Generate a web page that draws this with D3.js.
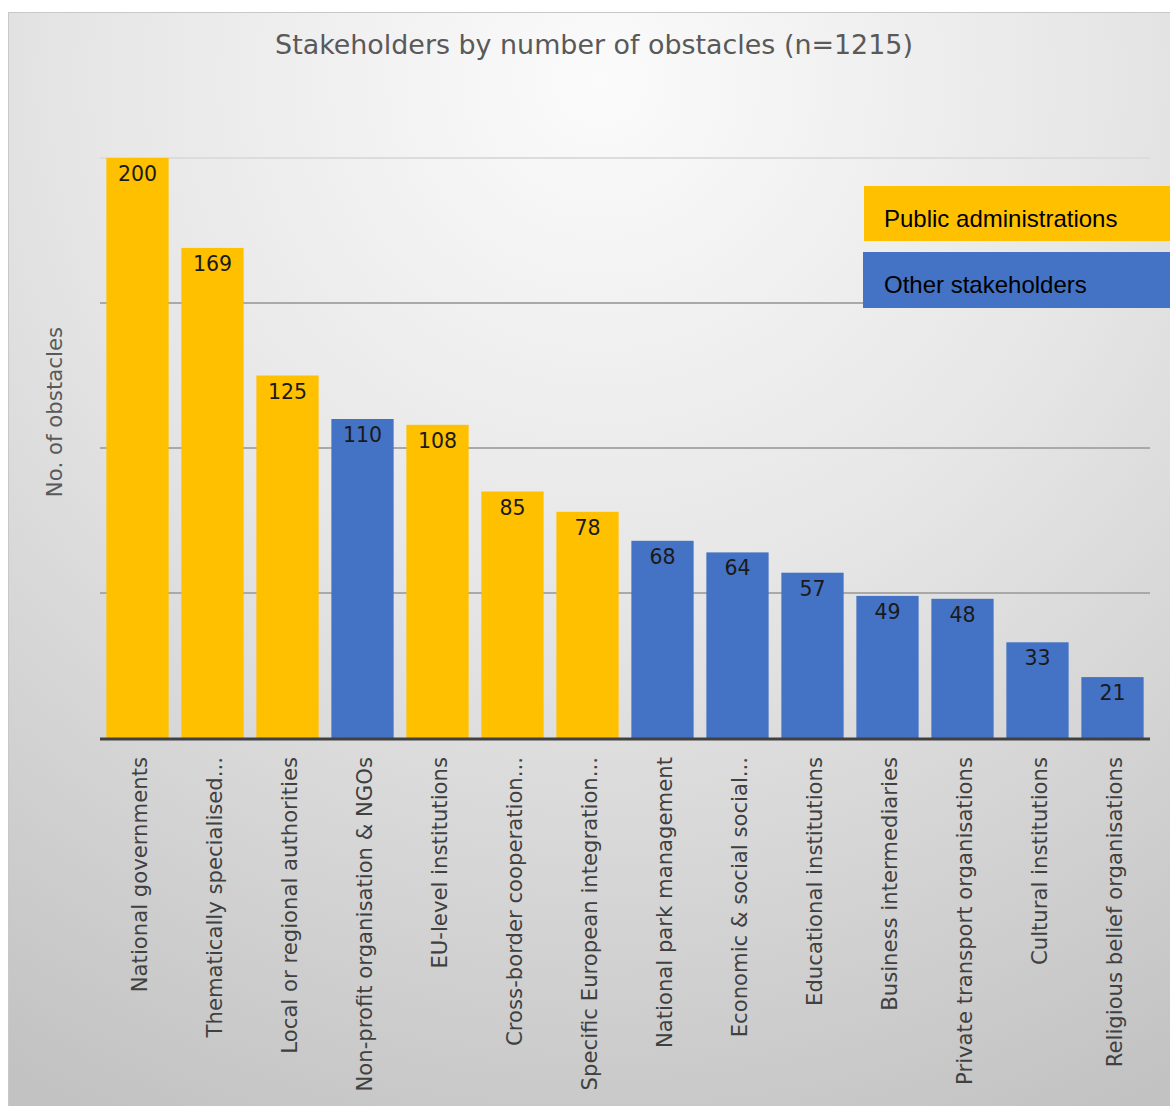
<!DOCTYPE html>
<html><head><meta charset="utf-8">
<script src="https://cdn.jsdelivr.net/npm/d3@7/dist/d3.min.js"></script>
<style>html,body{margin:0;padding:0;background:#fff;}svg{display:block;}</style>
</head><body>
<script>
const categories = ["National governments","Thematically specialised...","Local or regional authorities","Non-profit organisation & NGOs","EU-level institutions","Cross-border cooperation...","Specific European integration...","National park management","Economic & social social...","Educational institutions","Business intermediaries","Private transport organisations","Cultural institutions","Religious belief organisations"];
const values = [200,169,125,110,108,85,78,68,64,57,49,48,33,21];
const groups = ["Public administrations","Public administrations","Public administrations","Other stakeholders","Public administrations","Public administrations","Public administrations","Other stakeholders","Other stakeholders","Other stakeholders","Other stakeholders","Other stakeholders","Other stakeholders","Other stakeholders"];
const legendItems = ["Public administrations","Other stakeholders"];
const yTicks = [0,50,100,150,200];

const W = 1170, H = 1106;
const svg = d3.select("body").append("svg").attr("width", W).attr("height", H);
const defs = svg.append("defs");
const grad = defs.append("radialGradient").attr("id","bg").attr("gradientUnits","userSpaceOnUse")
  .attr("cx",600).attr("cy",80).attr("r",1150);
grad.append("stop").attr("offset","0").attr("stop-color","#fbfbfb");
grad.append("stop").attr("offset","0.45").attr("stop-color","#e6e6e6");
grad.append("stop").attr("offset","1").attr("stop-color","#c2c2c2");

svg.append("rect").attr("x",8.5).attr("y",12.5).attr("width",W).attr("height",H)
  .attr("fill","url(#bg)").attr("stroke","#c8c8c8").attr("stroke-width",1);

const color = d3.scaleOrdinal().domain(legendItems).range(["#ffc000","#4472c4"]);
const x = d3.scaleBand().domain(categories).range([100,1150]).paddingInner(0.17).paddingOuter(0.085);
const y = d3.scaleLinear().domain([0,200]).range([738,158]);

// gridlines
svg.append("g").selectAll("line").data(yTicks.filter(d=>d>0)).join("line")
  .attr("x1",100).attr("x2",1150).attr("y1",d=>y(d)).attr("y2",d=>y(d))
  .attr("stroke",d=>d===200?"#dcdcdc":"#a9a9a9").attr("stroke-width",2);

// title
svg.append("text").attr("x",594).attr("y",54).attr("text-anchor","middle")
  .attr("font-family","DejaVu Sans, Verdana, sans-serif").attr("font-size",26.9).attr("fill","#595959")
  .text("Stakeholders by number of obstacles (n=1215)");

// y label
svg.append("text").attr("transform","translate(62,412) rotate(-90)").attr("text-anchor","middle")
  .attr("font-family","DejaVu Sans, Verdana, sans-serif").attr("font-size",21.3).attr("fill","#595959")
  .text("No. of obstacles");

// bars
svg.append("g").selectAll("rect").data(categories).join("rect")
  .attr("x",d=>x(d)).attr("width",x.bandwidth())
  .attr("y",(d,i)=>y(values[i])).attr("height",(d,i)=>y(0)-y(values[i]))
  .attr("fill",(d,i)=>color(groups[i]));

// value labels
svg.append("g").selectAll("text").data(categories).join("text")
  .attr("x",d=>x(d)+x.bandwidth()/2).attr("y",(d,i)=>y(values[i])+23)
  .attr("text-anchor","middle").attr("font-family","DejaVu Sans, Verdana, sans-serif")
  .attr("font-size",20.5).attr("fill","#1a1a1a").text((d,i)=>values[i]);

// x axis
const xAxis = svg.append("g").attr("transform","translate(0,738)")
  .call(d3.axisBottom(x).tickSize(0).tickPadding(0));
xAxis.select(".domain").remove();
xAxis.selectAll(".tick text")
  .attr("transform","translate(1.5,19) rotate(-90)").attr("text-anchor","end")
  .attr("x",0).attr("y",0).attr("dy","0.36em")
  .attr("font-family","DejaVu Sans, Verdana, sans-serif").attr("font-size",21.2).attr("fill","#404040");
svg.append("line").attr("x1",100).attr("x2",1150).attr("y1",739).attr("y2",739)
  .attr("stroke","#404040").attr("stroke-width",3);

// legend
const leg = svg.append("g");
const legY = [186,252];
leg.selectAll("rect").data(legendItems).join("rect")
  .attr("x",(d,i)=>i===0?864:863).attr("y",(d,i)=>legY[i]).attr("width",320).attr("height",(d,i)=>i===0?55:56)
  .attr("fill",d=>color(d));
leg.selectAll("text").data(legendItems).join("text")
  .attr("x",884).attr("y",(d,i)=>legY[i]+41)
  .attr("font-family","Liberation Sans, Arial, sans-serif").attr("font-size",24).attr("fill","#000")
  .text(d=>d);
</script>
</body></html>
